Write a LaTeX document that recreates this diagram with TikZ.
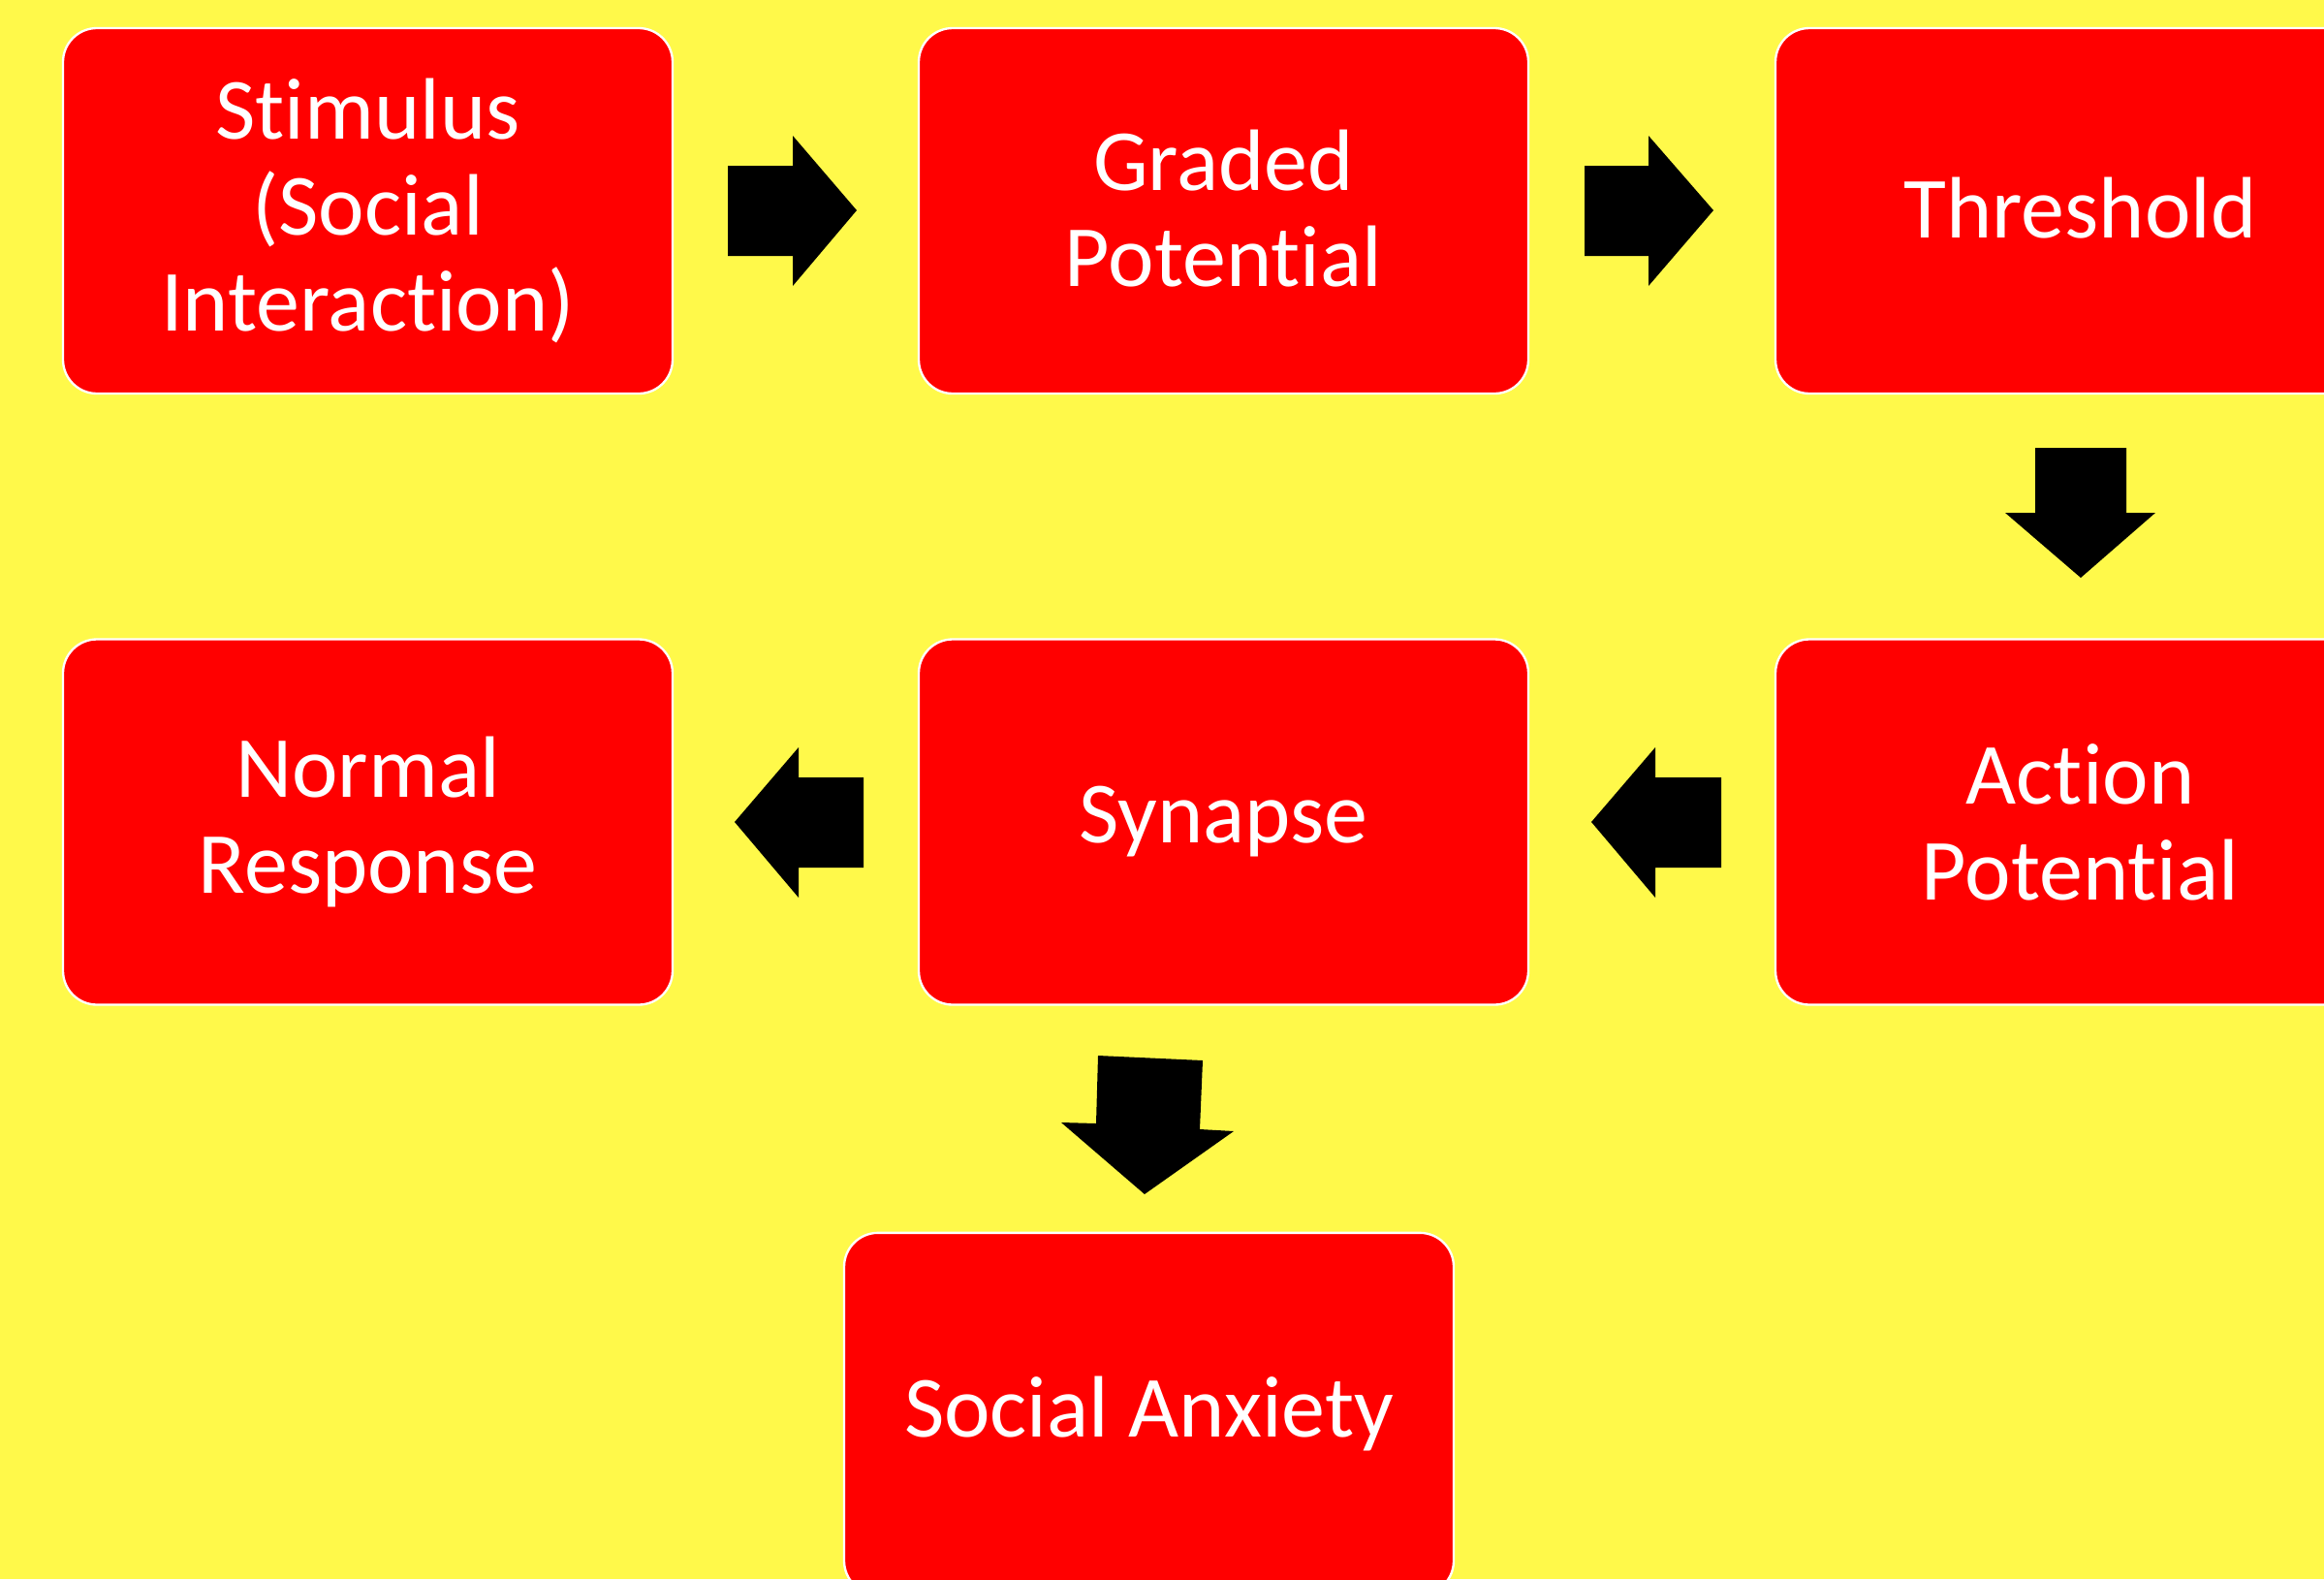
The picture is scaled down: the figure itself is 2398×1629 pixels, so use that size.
\documentclass[tikz,border=0pt]{standalone}
\usepackage{fontspec}
\setmainfont{Carlito}[Ligatures={NoCommon,NoContextual}]
\definecolor{bgyellow}{RGB}{255,249,74}
\definecolor{boxred}{RGB}{255,0,0}
\begin{document}
\begin{tikzpicture}[x=0.3pt,y=-0.3pt,
  box/.style={draw=white,line width=0.7pt,fill=boxred,rounded corners=10.5pt,
    minimum width=188.7pt,minimum height=113.1pt,inner sep=0pt,
    text=white,align=center,font=\fontsize{27}{29.7}\selectfont},
  blockarrow/.style={fill=black}]
\useasboundingbox (0,0) rectangle (2398,1629);
\clip (0,0) rectangle (2398,1629);
\fill[bgyellow] (0,0) rectangle (2398,1629);
% boxes
\node[box] (stim) at (379.5,217.5) {Stimulus\\(Social\\Interaction)};
\node[box] (graded) at (1262.5,217.5) {\raisebox{1.5pt}{Graded}\\\raisebox{1.5pt}{Potential}};
\node[box] (thresh) at (2146.5,217.5) {\raisebox{2.2pt}{Threshold}};
\node[box] (action) at (2146.5,848) {Action\\Potential};
\node[box] (synapse) at (1262.5,848) {Synapse};
\node[box] (normal) at (379.5,848) {Normal\\Response};
\node[box,minimum height=112pt] (anx) at (1185.5,1458.5) {\raisebox{-1.5pt}{Social Anxiety}};
% block arrows
\fill[blockarrow] (751,171) -- (818,171) -- (818,140) -- (884,217) -- (818,295) -- (818,264) -- (751,264) -- cycle;
\fill[blockarrow] (1635,171) -- (1701,171) -- (1701,140) -- (1768,217) -- (1701,295) -- (1701,264) -- (1635,264) -- cycle;
\fill[blockarrow] (2100,462) -- (2194,462) -- (2194,529) -- (2224,529) -- (2147,596) -- (2069,529) -- (2100,529) -- cycle;
\fill[blockarrow] (1776,802) -- (1708,802) -- (1708,771) -- (1642,848) -- (1708,926) -- (1708,895) -- (1776,895) -- cycle;
\fill[blockarrow] (891,802) -- (824,802) -- (824,771) -- (758,848) -- (824,926) -- (824,895) -- (891,895) -- cycle;
\fill[blockarrow] (1133,1089) -- (1241,1094) -- (1238,1165) -- (1273,1167) -- (1181,1232) -- (1095,1158) -- (1131,1159) -- cycle;
\end{tikzpicture}
\end{document}
